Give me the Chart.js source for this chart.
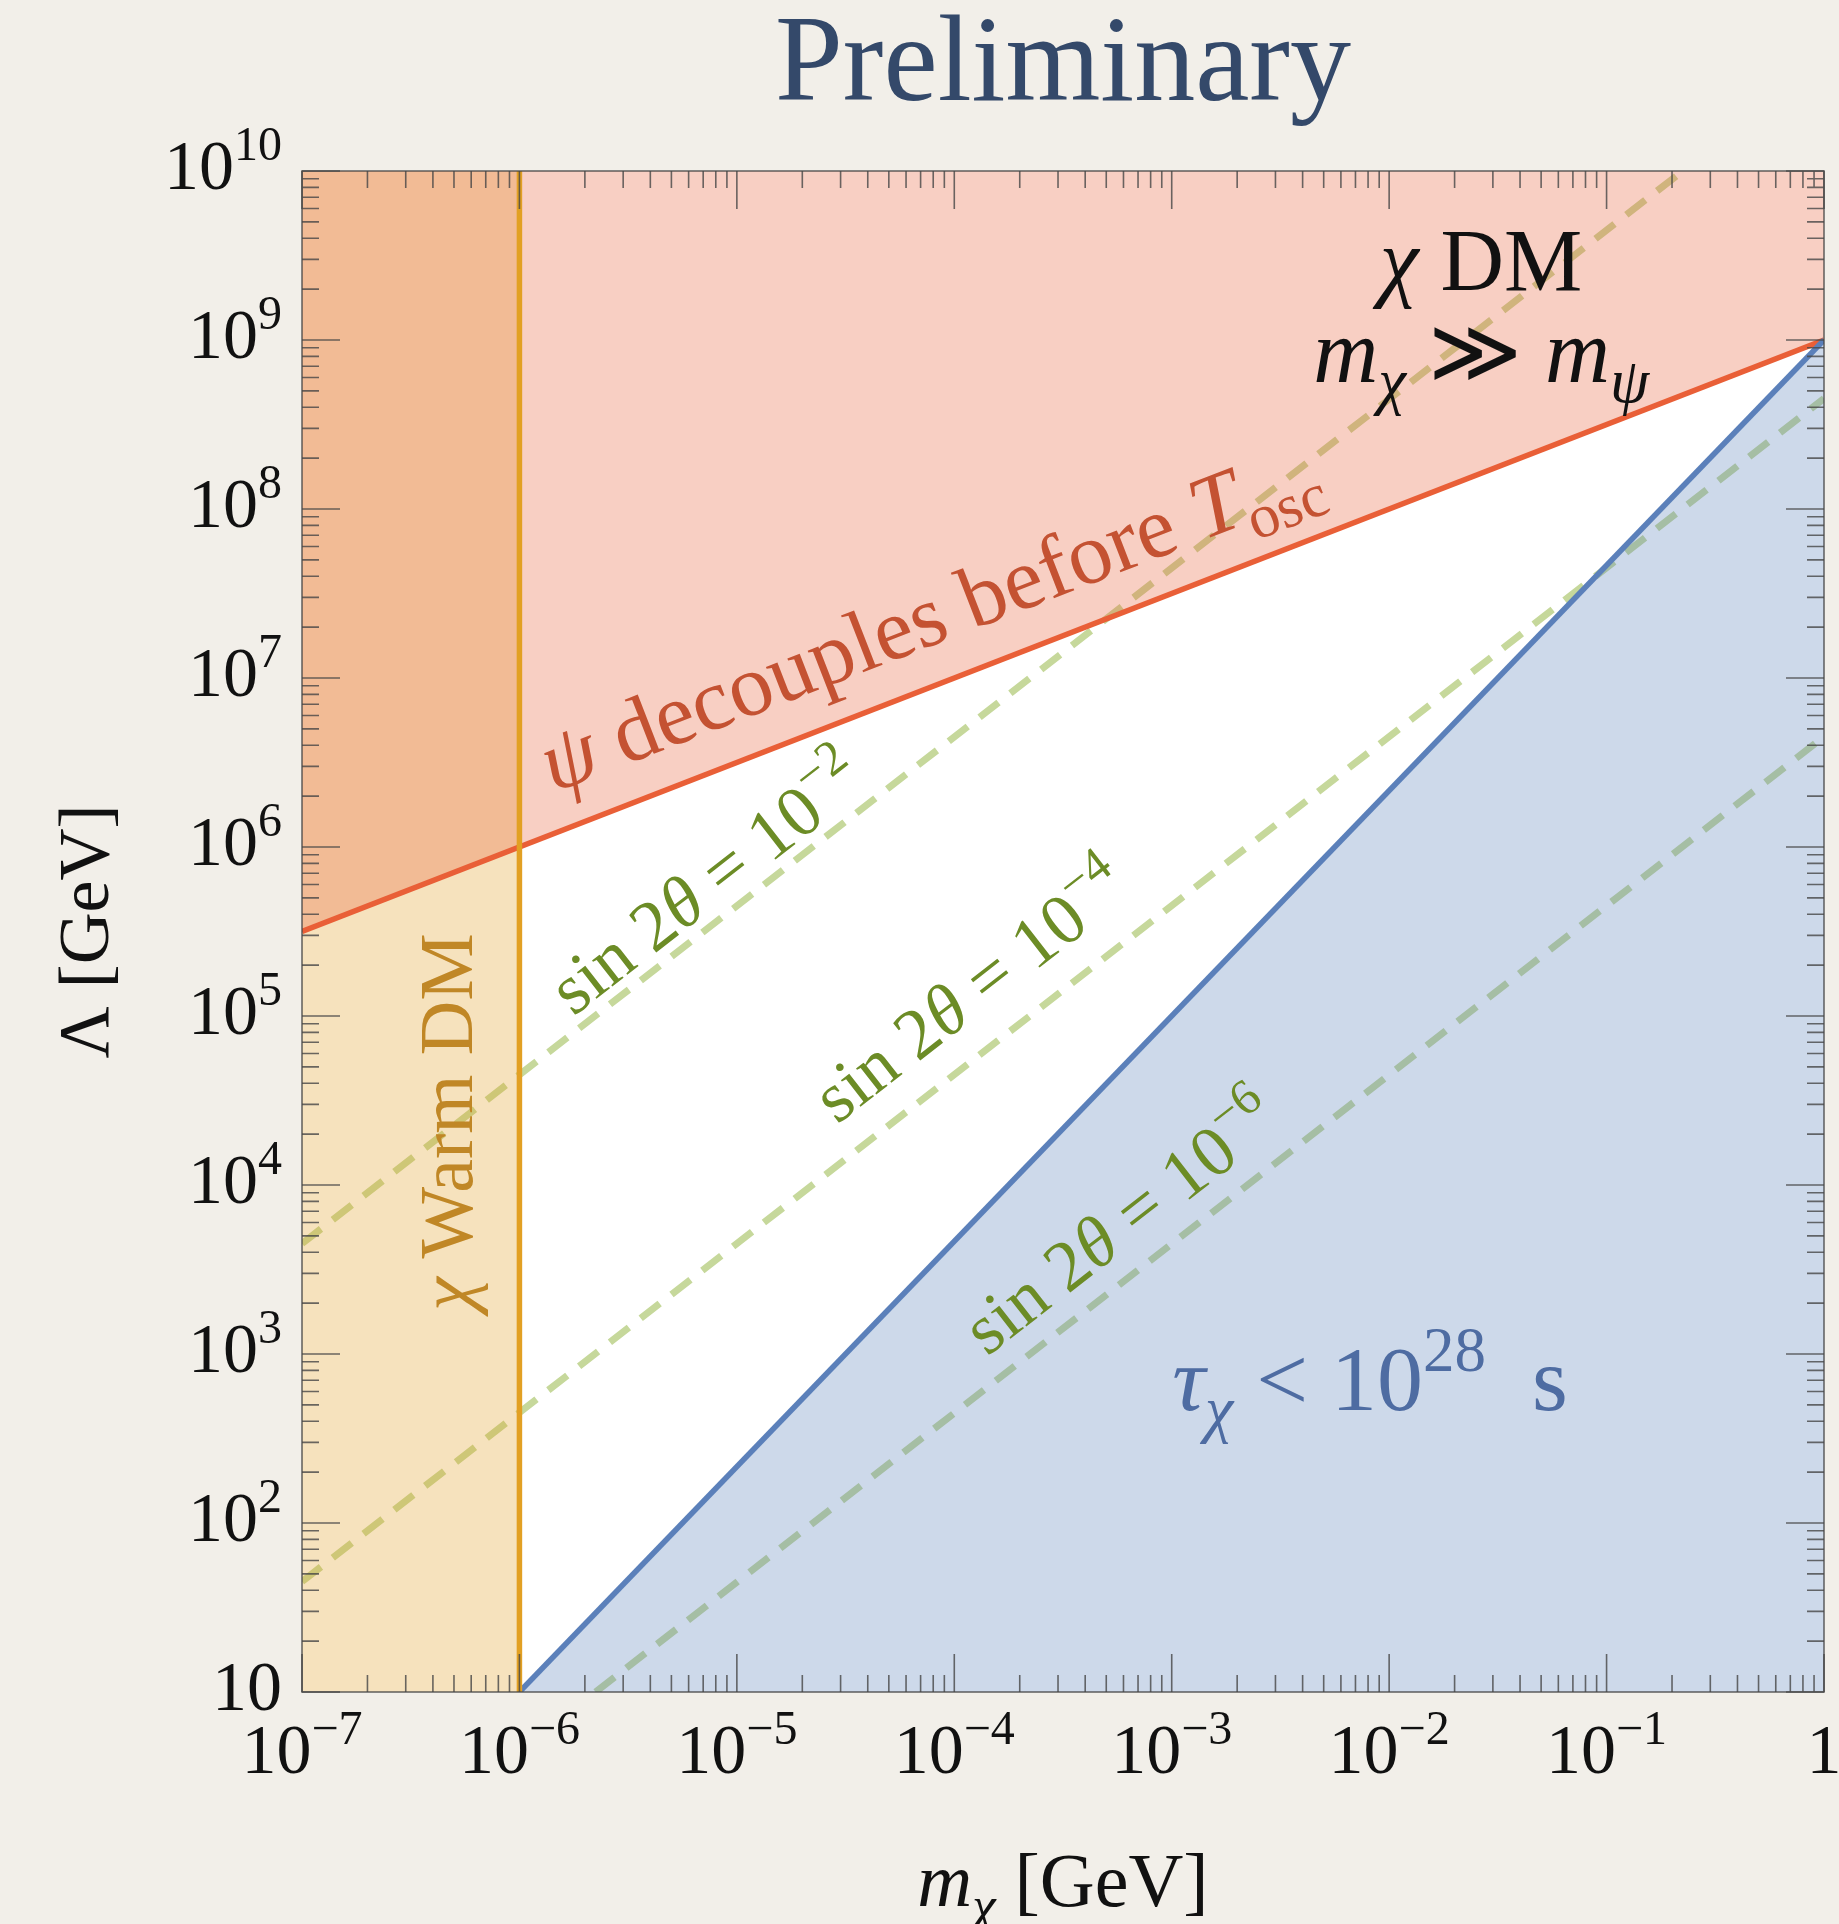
<!DOCTYPE html>
<html>
<head>
<meta charset="utf-8">
<script src="https://cdn.jsdelivr.net/npm/chart.js@4.4.1/dist/chart.umd.min.js"></script>
<style>
  html, body { margin: 0; padding: 0; background: #f2efe9; overflow: hidden; }
  #wrap { position: relative; width: 1839px; height: 1924px; }
</style>
</head>
<body>
<div id="wrap"><canvas id="myChart"></canvas></div>
<script>
// axes
const massMin = 1e-7, massMax = 1;
const scaleMin = 10, scaleMax = 1e10;
const massTicks = [1e-7, 1e-6, 1e-5, 1e-4, 1e-3, 1e-2, 1e-1, 1];
const massTickExps = ['\u22127', '\u22126', '\u22125', '\u22124', '\u22123', '\u22122', '\u22121', ''];
const scaleTicks = [1e1, 1e2, 1e3, 1e4, 1e5, 1e6, 1e7, 1e8, 1e9, 1e10];
const scaleTickExps = ['', '2', '3', '4', '5', '6', '7', '8', '9', '10'];
const minorSteps = [2, 3, 4, 5, 6, 7, 8, 9];

// boundaries (straight lines on log-log, so two ends each)
const decoupleMass = [1e-7, 1];
const decoupleScale = [3.16e5, 1e9];
const warmMass = [1e-7, 1e-6];
const warmTop = [1e10, 1e10];
const warmEdgeMass = [1e-6, 1e-6];
const warmEdgeScale = [10, 1e10];
const lifetimeMass = [1e-6, 1];
const lifetimeScale = [10, 1e9];
const mix2Mass = [1e-7, 0.224];
const mix2Scale = [4.5e3, 1e10];
const mix4Mass = [1e-7, 1];
const mix4Scale = [45, 4.5e8];
const mix6Mass = [2.24e-6, 1];
const mix6Scale = [10, 4.5e6];

const FONT = '"Liberation Serif", "DejaVu Serif", serif';
const red = 'rgb(233,95,55)';
const orange = 'rgb(226,160,35)';
const blue = 'rgb(91,128,186)';
const dashGreen = 'rgb(198,216,155)';

function pts(xs, ys) {
    return xs.map((x, i) => ({ x: x, y: ys[i] }));
}

// draw a row of text pieces (italics, sub/superscripts) along a baseline
function drawRuns(ctx, runs, x, y, size, color, align, angle) {
    ctx.save();
    ctx.translate(x, y);
    ctx.rotate(angle || 0);
    ctx.fillStyle = color;
    ctx.textBaseline = 'alphabetic';
    ctx.textAlign = 'left';
    const fontOf = r => `${r.it ? 'italic ' : ''}${Math.round(size * (r.s || 1))}px ${FONT}`;
    let total = 0;
    runs.forEach(r => { ctx.font = fontOf(r); total += ctx.measureText(r.t).width; });
    let cx = align === 'center' ? -total / 2 : align === 'right' ? -total : 0;
    runs.forEach(r => {
        ctx.font = fontOf(r);
        ctx.fillText(r.t, cx, -(r.dy || 0) * size);
        cx += ctx.measureText(r.t).width;
    });
    ctx.restore();
}

const sup = t => ({ t: t, s: 0.69, dy: 0.42 });
const sub = (t, it) => ({ t: t, s: 0.7, dy: -0.22, it: it });

const notes = [
    { runs: [{ t: '\u03c7', it: true }, { t: ' DM' }], at: [-1.577, 9.296], size: 88, color: '#111', align: 'center' },
    { runs: [{ t: 'm', it: true }, sub('\u03c7', true), { t: ' \u226b ' }, { t: 'm', it: true }, sub('\u03c8', true)], at: [-1.577, 8.751], size: 90, color: '#111', align: 'center' },
    { runs: [{ t: '\u03c8', it: true }, { t: ' decouples before ' }, { t: 'T', it: true }, sub('osc')], at: [-5.845, 6.32], size: 88, color: 'rgb(196,82,50)', align: 'left', along: [decoupleMass, decoupleScale] },
    { runs: [{ t: 'sin 2' }, { t: '\u03b8', it: true }, { t: ' = 10' }, sup('\u22122')], at: [-5.753, 4.994], size: 72, color: 'rgb(108,140,38)', align: 'left', along: [mix4Mass, mix4Scale] },
    { runs: [{ t: 'sin 2' }, { t: '\u03b8', it: true }, { t: ' = 10' }, sup('\u22124')], at: [-4.539, 4.355], size: 72, color: 'rgb(108,140,38)', align: 'left', along: [mix4Mass, mix4Scale] },
    { runs: [{ t: 'sin 2' }, { t: '\u03b8', it: true }, { t: ' = 10' }, sup('\u22126')], at: [-3.849, 2.982], size: 72, color: 'rgb(108,140,38)', align: 'left', along: [mix4Mass, mix4Scale] },
    { runs: [{ t: '\u03c7', it: true }, { t: ' Warm DM' }], at: [-6.218, 4.373], size: 76, color: 'rgb(192,135,38)', align: 'center', angle: -Math.PI / 2 },
    { runs: [{ t: '\u03c4', it: true }, sub('\u03c7', true), { t: ' < 10' }, sup('28'), { t: '  s' }], at: [-2.998, 2.669], size: 92, color: 'rgb(78,108,162)', align: 'left' }
];

const framePlugin = {
    id: 'framePlugin',
    beforeDatasetsDraw(chart) {
        const { ctx, chartArea: a } = chart;
        ctx.save();
        ctx.fillStyle = '#ffffff';
        ctx.fillRect(a.left, a.top, a.right - a.left, a.bottom - a.top);
        ctx.restore();
    },
    afterDatasetsDraw(chart) {
        const { ctx, chartArea: a } = chart;
        const xs = chart.scales.x, ys = chart.scales.y;

        // annotations
        notes.forEach(n => {
            const px = xs.getPixelForValue(Math.pow(10, n.at[0]));
            const py = ys.getPixelForValue(Math.pow(10, n.at[1]));
            let angle = n.angle || 0;
            if (n.along) {
                const m = n.along[0], l = n.along[1];
                angle = Math.atan2(ys.getPixelForValue(l[1]) - ys.getPixelForValue(l[0]),
                    xs.getPixelForValue(m[1]) - xs.getPixelForValue(m[0]));
            }
            drawRuns(ctx, n.runs, px, py, n.size, n.color, n.align, angle);
        });

        // frame and inward ticks on all four sides
        ctx.save();
        ctx.strokeStyle = 'rgba(70,70,70,0.8)';
        ctx.lineWidth = 1.6;
        ctx.strokeRect(a.left, a.top, a.right - a.left, a.bottom - a.top);
        ctx.beginPath();
        const tickX = (v, len) => {
            const p = xs.getPixelForValue(v);
            ctx.moveTo(p, a.bottom); ctx.lineTo(p, a.bottom - len);
            ctx.moveTo(p, a.top); ctx.lineTo(p, a.top + len);
        };
        const tickY = (v, len) => {
            const p = ys.getPixelForValue(v);
            ctx.moveTo(a.left, p); ctx.lineTo(a.left + len, p);
            ctx.moveTo(a.right, p); ctx.lineTo(a.right - len, p);
        };
        massTicks.forEach((v, i) => {
            tickX(v, 38);
            if (i < massTicks.length - 1) minorSteps.forEach(k => tickX(v * k, 17));
        });
        scaleTicks.forEach((v, i) => {
            tickY(v, 38);
            if (i < scaleTicks.length - 1) minorSteps.forEach(k => tickY(v * k, 17));
        });
        ctx.stroke();
        ctx.restore();

        // tick labels
        massTicks.forEach((v, i) => {
            const runs = massTickExps[i] ? [{ t: '10' }, sup(massTickExps[i])] : [{ t: '1' }];
            drawRuns(ctx, runs, xs.getPixelForValue(v), a.bottom + 81, 70, '#111', 'center');
        });
        scaleTicks.forEach((v, i) => {
            const runs = scaleTickExps[i] ? [{ t: '10' }, sup(scaleTickExps[i])] : [{ t: '10' }];
            drawRuns(ctx, runs, a.left - 20, ys.getPixelForValue(v) + 18, 70, '#111', 'right');
        });

        // axis titles and heading
        const midX = (a.left + a.right) / 2, midY = (a.top + a.bottom) / 2;
        drawRuns(ctx, [{ t: 'm', it: true }, sub('\u03c7', true), { t: ' [GeV]' }], midX, 1906, 76, '#111', 'center');
        drawRuns(ctx, [{ t: '\u039b [GeV]' }], 108, midY, 72, '#111', 'center', -Math.PI / 2);
        drawRuns(ctx, [{ t: 'Preliminary' }], midX, 100, 122, 'rgb(52,73,106)', 'center');
    }
};

const line = (data, color, width, order, extra) => Object.assign({
    data: data, showLine: true, borderColor: color, borderWidth: width,
    pointRadius: 0, tension: 0, fill: false, order: order
}, extra || {});

const dash = { borderDash: [24, 15] };

const data = {
    datasets: [
        line(pts(mix2Mass, mix2Scale), dashGreen, 7, 3, dash),
        line(pts(mix4Mass, mix4Scale), dashGreen, 7, 3, dash),
        line(pts(mix6Mass, mix6Scale), dashGreen, 7, 3, dash),
        line(pts(decoupleMass, decoupleScale), 'rgba(0,0,0,0)', 0, 2, { fill: 'end', backgroundColor: 'rgba(233,95,55,0.3)' }),
        line(pts(warmMass, warmTop), 'rgba(0,0,0,0)', 0, 2, { fill: 'start', backgroundColor: 'rgba(226,160,35,0.3)' }),
        line(pts(lifetimeMass, lifetimeScale), 'rgba(0,0,0,0)', 0, 2, { fill: 'start', backgroundColor: 'rgba(91,128,186,0.3)' }),
        line(pts(warmEdgeMass, warmEdgeScale), orange, 5.5, 1),
        line(pts(lifetimeMass, lifetimeScale), blue, 5.5, 1),
        line(pts(decoupleMass, decoupleScale), red, 5.5, 1)
    ]
};

const config = {
    type: 'scatter',
    data: data,
    options: {
        responsive: true,
        maintainAspectRatio: false,
        animation: false,
        layout: { padding: { left: 302, top: 171, right: 15, bottom: 232 } },
        plugins: { legend: { display: false }, tooltip: { enabled: false } },
        scales: {
            x: { type: 'logarithmic', min: massMin, max: massMax, display: false },
            y: { type: 'logarithmic', min: scaleMin, max: scaleMax, display: false }
        }
    },
    plugins: [framePlugin]
};

const myChart = new Chart(document.getElementById('myChart'), config);
</script>
</body>
</html>
